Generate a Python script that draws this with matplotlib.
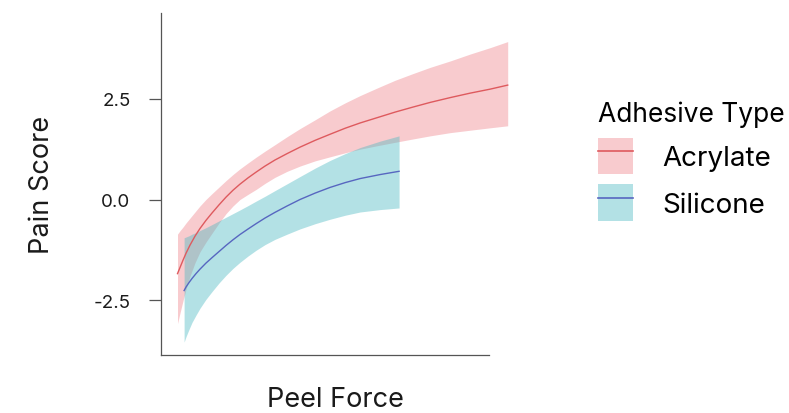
import matplotlib
matplotlib.use("Agg")
import matplotlib.pyplot as plt
from matplotlib.patches import Patch
from matplotlib.lines import Line2D

plt.rcParams['font.family'] = ['Inter', 'DejaVu Sans']

# fitted curves with confidence bands
acr_x = [0.50, 0.58, 0.67, 0.76, 0.88, 1.03, 1.18, 1.36, 1.55, 1.76, 1.97, 2.18, 2.39, 2.64, 2.88, 3.15,
         3.45, 3.82, 4.21, 4.67, 5.12, 5.58, 6.03, 6.58, 7.09, 7.61, 8.15, 8.76, 9.36, 9.97, 10.5]
acr_fit = [-1.84, -1.68, -1.50, -1.33, -1.13, -0.91, -0.72, -0.52, -0.33, -0.13, 0.06, 0.23, 0.38, 0.54, 0.68, 0.83,
           0.98, 1.14, 1.30, 1.47, 1.62, 1.77, 1.90, 2.04, 2.17, 2.29, 2.41, 2.53, 2.64, 2.74, 2.84]
acr_hi = [-0.86, -0.77, -0.68, -0.58, -0.46, -0.31, -0.16, 0.00, 0.15, 0.31, 0.47, 0.62, 0.76, 0.91, 1.05, 1.20,
          1.36, 1.56, 1.76, 1.98, 2.20, 2.40, 2.58, 2.78, 2.96, 3.12, 3.28, 3.44, 3.61, 3.77, 3.92]
acr_lo = [-3.08, -2.80, -2.50, -2.22, -1.90, -1.57, -1.30, -1.06, -0.83, -0.58, -0.35, -0.16, 0.00, 0.13, 0.25, 0.40,
          0.55, 0.70, 0.83, 0.96, 1.06, 1.16, 1.25, 1.34, 1.42, 1.50, 1.58, 1.66, 1.72, 1.78, 1.83]

sil_x = [0.70, 0.76, 0.85, 0.94, 1.06, 1.18, 1.36, 1.55, 1.76, 1.97, 2.18, 2.39, 2.64, 2.88, 3.15, 3.45,
         3.82, 4.21, 4.67, 5.12, 5.58, 6.03, 6.64, 7.21]
sil_fit = [-2.26, -2.17, -2.06, -1.96, -1.84, -1.73, -1.58, -1.44, -1.29, -1.14, -1.00, -0.87, -0.73, -0.60, -0.46, -0.32,
           -0.16, 0.00, 0.16, 0.30, 0.42, 0.52, 0.62, 0.70]
sil_hi = [-0.95, -0.93, -0.90, -0.86, -0.82, -0.77, -0.70, -0.62, -0.53, -0.44, -0.35, -0.26, -0.15, -0.04, 0.08, 0.22,
          0.39, 0.57, 0.78, 0.97, 1.14, 1.29, 1.45, 1.58]
sil_lo = [-3.54, -3.40, -3.22, -3.05, -2.87, -2.70, -2.48, -2.28, -2.07, -1.88, -1.71, -1.56, -1.40, -1.26, -1.12, -0.99,
          -0.86, -0.73, -0.60, -0.49, -0.39, -0.31, -0.25, -0.21]

labels = ['Acrylate', 'Silicone']
yticks = [-2.5, 0.0, 2.5]

fill_cols = ['#F08C94', '#4BB9C2']
line_cols = ['#DE5A5E', '#5766C0']
alphas = [0.45, 0.42]

W, H = 789, 414
fig = plt.figure(figsize=(W / 100, H / 100), dpi=100)
ax = fig.add_axes([161 / W, 58 / H, 350 / W, 342 / H])

ax.fill_between(acr_x, acr_lo, acr_hi, color=fill_cols[0], alpha=alphas[0], lw=0)
ax.plot(acr_x, acr_fit, color=line_cols[0], lw=1.0)
ax.fill_between(sil_x, sil_lo, sil_hi, color=fill_cols[1], alpha=alphas[1], lw=0)
ax.plot(sil_x, sil_fit, color=line_cols[1], lw=1.0)

ax.set_xlim(0, 10.6)
ax.set_ylim(-3.86, 4.63)
ax.set_xticks([])
ax.set_yticks(yticks)
ax.set_yticklabels(['%.1f' % v for v in yticks])
ax.tick_params(axis='y', length=9, width=0.9, color='#555555', pad=13, labelsize=13.5, labelcolor='#1a1a1a')

for s in ['top', 'right']:
    ax.spines[s].set_visible(False)
for s in ['left', 'bottom']:
    ax.spines[s].set_color('#555555')
    ax.spines[s].set_linewidth(0.9)
ax.spines['bottom'].set_bounds(0, 9.94)

ax.set_ylabel('Pain Score', fontsize=19.5, color='#1a1a1a')
ax.set_xlabel('Peel Force', fontsize=19.5, color='#1a1a1a')
ax.yaxis.set_label_coords(-0.303, 0.5)
ax.xaxis.set_label_coords(0.497, -0.092)

handles = []
for i in range(2):
    handles.append((Patch(facecolor=fill_cols[i], alpha=alphas[i], lw=0),
                    Line2D([], [], color=line_cols[i], lw=1.2)))
leg = fig.legend(handles, labels, title='Adhesive Type', loc='upper left',
                 bbox_to_anchor=(598 / W, 1 - 102 / H), frameon=False,
                 fontsize=20, title_fontsize=19, alignment='left',
                 handlelength=1.26, handleheight=1.67, handletextpad=1.04,
                 labelspacing=0.36, borderpad=0, borderaxespad=0)

fig.savefig('out.png', dpi=100)
